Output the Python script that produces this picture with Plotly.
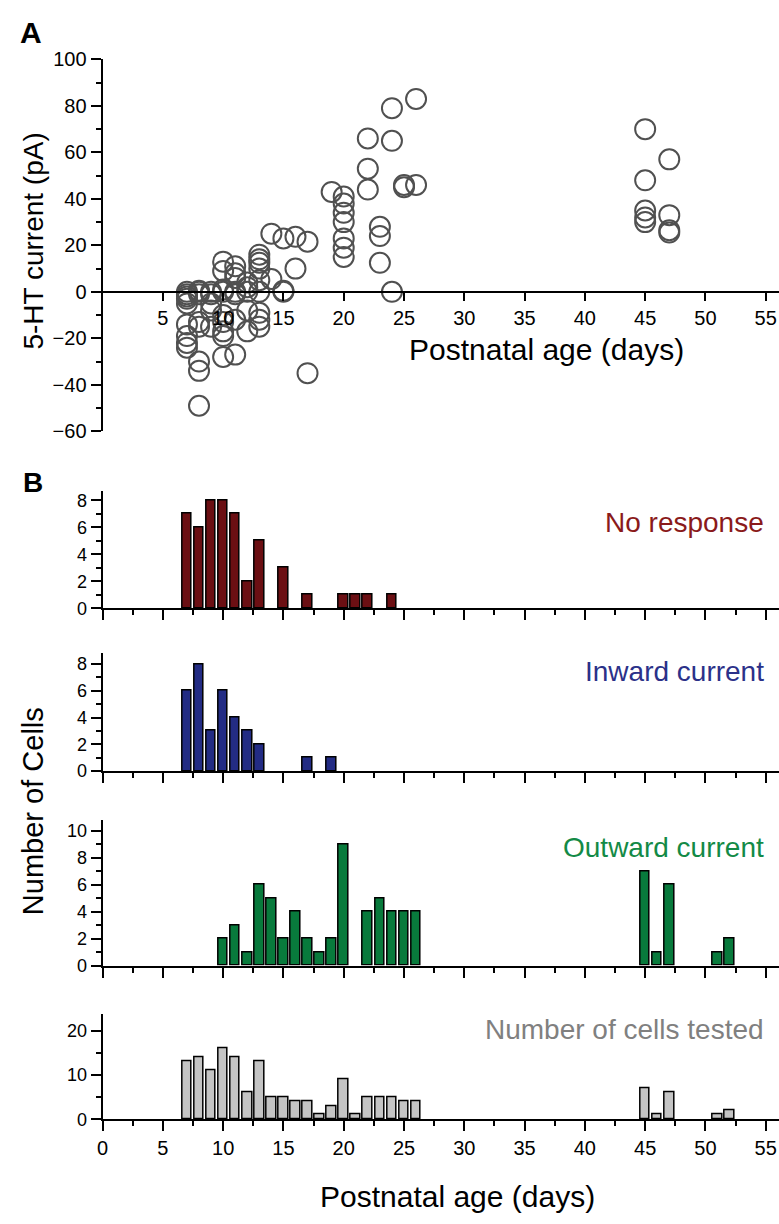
import plotly.graph_objects as go

# ---------------- Panel A: 5-HT current vs postnatal age ----------------
age_A = [7, 7, 7, 7, 7, 7, 7, 7, 7,
         8, 8, 8, 8, 8, 8, 8, 8,
         9, 9, 9, 9, 9,
         10, 10, 10, 10, 10, 10, 10, 10, 10,
         11, 11, 11, 11, 11, 11, 11,
         12, 12, 12, 12, 12,
         13, 13, 13, 13, 13, 13, 13, 13, 13,
         14, 14, 15, 15, 15, 16, 16, 17, 17,
         19, 20, 20, 20, 20, 20, 20, 20,
         22, 22, 22, 23, 23, 23, 24, 24, 24, 25, 25, 26, 26,
         45, 45, 45, 45, 45, 47, 47, 47, 47]
current_A = [0, -1, -2, -3, -5, -14, -19, -22, -24,
             0, -1, 0.5, -13, -15, -30, -34, -49,
             0, -1, -5, -8, -15,
             0, 1, 13, 9, -10, -13, -17, -19, -28,
             0, -1, 11, 8, 6, -12, -27,
             0, 2, 4, -8, -17,
             0, 16, 14, 12.5, 10, 5, -9, -12, -15,
             25, 5.5, 23, 0.5, 0, 23.7, 10, 21.6, -35,
             43, 41, 38, 34, 30, 23, 19, 15,
             66, 53, 44, 28, 24, 12.5, 79, 65, 0, 45, 46, 46, 83,
             70, 48, 35, 32, 30, 57, 33, 26.5, 25.5]

# ---------------- Panel B: histograms ----------------
nr_days = [7, 8, 9, 10, 11, 12, 13, 15, 17, 20, 21, 22, 24]
nr_counts = [7, 6, 8, 8, 7, 2, 5, 3, 1, 1, 1, 1, 1]

in_days = [7, 8, 9, 10, 11, 12, 13, 17, 19]
in_counts = [6, 8, 3, 6, 4, 3, 2, 1, 1]

out_days = [10, 11, 12, 13, 14, 15, 16, 17, 18, 19, 20, 22, 23, 24, 25, 26, 45, 46, 47, 51, 52]
out_counts = [2, 3, 1, 6, 5, 2, 4, 2, 1, 2, 9, 4, 5, 4, 4, 4, 7, 1, 6, 1, 2]

tested_days = [7, 8, 9, 10, 11, 12, 13, 14, 15, 16, 17, 18, 19, 20, 21, 22, 23, 24, 25, 26, 45, 46, 47, 51, 52]
tested_counts = [13, 14, 11, 16, 14, 6, 13, 5, 5, 4, 4, 1, 3, 9, 1, 5, 5, 5, 4, 4, 7, 1, 6, 1, 2]

labels = ["No response", "Inward current", "Outward current", "Number of cells tested"]

# ---------------- layout geometry (pixels) ----------------
W, H = 779, 1224
FONT = "Liberation Sans, Arial, sans-serif"


def fy(py):
    return 1 - py / H


def fx(px):
    return px / W


XDOM = [fx(97.3), 1.0]
XRANGE = [0, 56.1]

domA = [fy(428), fy(49.3)]
domB = [
    [fy(608.3), fy(488.3)],
    [fy(774), fy(653.3)],
    [fy(972), fy(823.3)],
    [fy(1128.5), fy(1021.7)],
]
rangesB = [[0, 8.73], [0, 8.86], [0, 10.85], [0, 23.7]]
fills = ["#6b0f13", "#232c84", "#087a3c", "#c4c4c4"]
textcols = ["#8a1a1a", "#2b3189", "#138a46", "#808080"]
label_y = [521, 673, 852, 1037]

fig = go.Figure()

fig.add_trace(go.Scatter(
    x=age_A, y=current_A, mode="markers", xaxis="x", yaxis="y",
    marker=dict(size=20, symbol="circle-open", color="#505050",
                line=dict(width=2, color="#505050")),
    cliponaxis=False, showlegend=False, hoverinfo="x+y"))

series = [(nr_days, nr_counts), (in_days, in_counts),
          (out_days, out_counts), (tested_days, tested_counts)]
for i, (d, c) in enumerate(series):
    n = i + 2
    fig.add_trace(go.Bar(
        x=d, y=c, width=0.8, xaxis=f"x{n}", yaxis=f"y{n}",
        marker=dict(color=fills[i], line=dict(color="black", width=1.5)),
        showlegend=False, name=labels[i]))

# Panel A axes (x axis crosses at y = 0)
posA = domA[0] + (0 - (-60)) / 160 * (domA[1] - domA[0])
layout = dict(
    width=W, height=H,
    margin=dict(l=0, r=0, t=0, b=0),
    paper_bgcolor="white", plot_bgcolor="white",
    font=dict(family=FONT, color="black"),
    bargap=0,
    xaxis=dict(domain=XDOM, range=XRANGE, anchor="free", position=posA,
               showline=True, linewidth=2, linecolor="black",
               showgrid=False, zeroline=False,
               tickmode="array", tickvals=[5, 10, 15, 20, 25, 30, 35, 40, 45, 50, 55],
               ticks="outside", ticklen=8, tickwidth=2, tickcolor="black",
               tickfont=dict(size=20, family=FONT)),
    yaxis=dict(domain=domA, range=[-60, 100], anchor="x",
               showline=True, linewidth=2, linecolor="black",
               showgrid=False, zeroline=False,
               tick0=0, dtick=20, ticks="outside", ticklen=10, tickwidth=2,
               tickcolor="black", tickfont=dict(size=20, family=FONT),
               minor=dict(dtick=10, ticks="outside", ticklen=5, tickwidth=2,
                          tickcolor="black", showgrid=False)),
)

for i in range(4):
    n = i + 2
    layout[f"xaxis{n}"] = dict(
        domain=XDOM, range=XRANGE, anchor=f"y{n}",
        showline=True, linewidth=2, linecolor="black",
        showgrid=False, zeroline=False,
        tick0=0, dtick=5, ticks="outside", ticklen=10, tickwidth=2,
        tickcolor="black",
        showticklabels=(i == 3), tickfont=dict(size=20, family=FONT),
        minor=dict(dtick=2.5, ticks="outside", ticklen=5, tickwidth=2,
                   tickcolor="black", showgrid=False))
    ydt = 10 if i == 3 else 2
    ymin = 5 if i == 3 else 1
    layout[f"yaxis{n}"] = dict(
        domain=domB[i], range=rangesB[i], anchor=f"x{n}",
        showline=True, linewidth=2, linecolor="black",
        showgrid=False, zeroline=False,
        tick0=0, dtick=ydt, ticks="outside", ticklen=10, tickwidth=2,
        tickcolor="black", tickfont=dict(size=18, family=FONT),
        minor=dict(dtick=ymin, ticks="outside", ticklen=5, tickwidth=2,
                   tickcolor="black", showgrid=False))

annotations = [
    dict(text="<b>A</b>", x=fx(12), y=fy(22), xanchor="left", yanchor="middle",
         font=dict(size=30, family=FONT)),
    dict(text="<b>B</b>", x=fx(15), y=fy(480), xanchor="left", yanchor="middle",
         font=dict(size=28, family=FONT)),
    dict(text="5-HT current (pA)", x=fx(28), y=fy(234), textangle=-90,
         xanchor="center", yanchor="middle", font=dict(size=28, family=FONT)),
    dict(text="Postnatal age (days)", x=fx(545), y=fy(345),
         xanchor="center", yanchor="middle", font=dict(size=30, family=FONT)),
    dict(text="Number of Cells", x=fx(28), y=fy(815), textangle=-90,
         xanchor="center", yanchor="middle", font=dict(size=29, family=FONT)),
    dict(text="Postnatal age (days)", x=fx(455), y=fy(1207),
         xanchor="center", yanchor="middle", font=dict(size=30, family=FONT)),
]
for i in range(4):
    annotations.append(dict(text=labels[i], x=fx(766), y=fy(label_y[i]),
                            xanchor="right", yanchor="middle",
                            font=dict(size=28, family=FONT, color=textcols[i])))

for a in annotations:
    a.update(xref="paper", yref="paper", showarrow=False)
layout["annotations"] = annotations

fig.update_layout(**layout)
fig.write_html(
    "out.html",
    config={"displayModeBar": False},
    post_script="document.body.style.margin='0px';document.body.style.overflow='hidden';",
)
